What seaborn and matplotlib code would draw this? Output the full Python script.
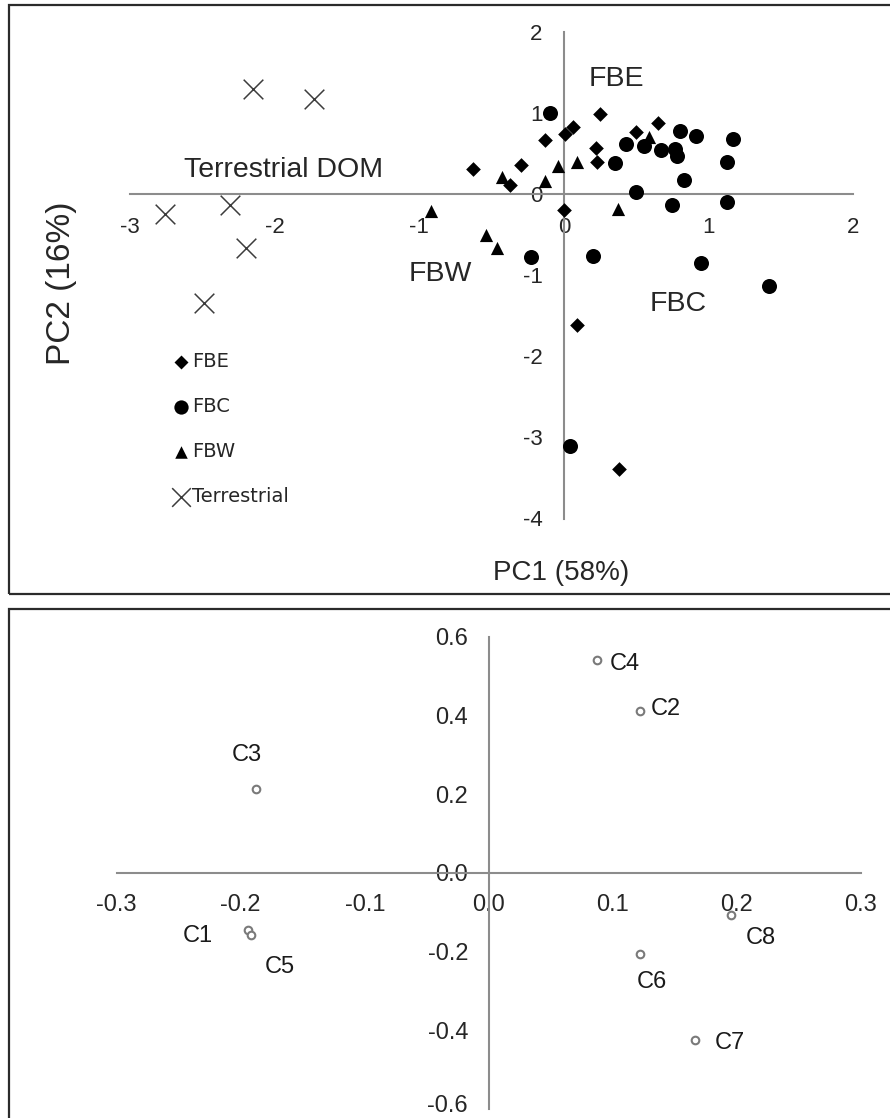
import matplotlib
matplotlib.use("Agg")
import pandas as pd
import matplotlib.pyplot as plt
from matplotlib.patches import Rectangle
from matplotlib.transforms import ScaledTranslation
import seaborn as sns

# PCA scores
fbe_pc1 = [-0.63, -0.37, -0.30, -0.13, 0.01, 0.06, 0.25, 0.22, 0.23, 0.50, 0.65, 0.00, 0.09, 0.38]
fbe_pc2 = [0.31, 0.11, 0.36, 0.66, 0.74, 0.83, 0.98, 0.57, 0.40, 0.76, 0.87, -0.20, -1.62, -3.39]

fbc_pc1 = [-0.10, 0.35, 0.43, 0.55, 0.67, 0.80, 0.77, 0.78, 0.91, 1.17, 1.13, 0.83, 0.50, 0.75,
           1.13, -0.23, 0.20, 0.95, 1.42, 0.04]
fbc_pc2 = [1.00, 0.38, 0.61, 0.59, 0.54, 0.77, 0.55, 0.47, 0.71, 0.68, 0.40, 0.17, 0.03, -0.14,
           -0.10, -0.78, -0.76, -0.85, -1.13, -3.11]

fbw_pc1 = [-0.92, -0.54, -0.46, -0.43, -0.13, -0.04, 0.09, 0.59, 0.37]
fbw_pc2 = [-0.21, -0.51, -0.66, 0.21, 0.16, 0.35, 0.39, 0.70, -0.18]

terr_pc1 = [-2.15, -1.73, -2.76, -2.31, -2.20, -2.49]
terr_pc2 = [1.29, 1.17, -0.25, -0.14, -0.66, -1.35]

# loadings (bottom panel)
comp_labels = ["C1", "C2", "C3", "C4", "C5", "C6", "C7", "C8"]
comp_pc1 = [-0.194, 0.122, -0.188, 0.0875, -0.192, 0.122, 0.166, 0.195]
comp_pc2 = [-0.145, 0.41, 0.212, 0.542, -0.158, -0.206, -0.425, -0.107]

top_xticks = [-3, -2, -1, 0, 1, 2]
top_yticks = [-4, -3, -2, -1, 0, 1, 2]
bot_xticks = [-0.3, -0.2, -0.1, 0.0, 0.1, 0.2, 0.3]
bot_yticks = [-0.6, -0.4, -0.2, 0.0, 0.2, 0.4, 0.6]

sns.set_style("white")
plt.rcParams["font.family"] = ["Liberation Sans", "DejaVu Sans"]
plt.rcParams["axes.unicode_minus"] = False

W, H = 890, 1118
fig = plt.figure(figsize=(W / 100, H / 100), dpi=100)

# panel frames (cut off on the right, like the original)
fig.add_artist(Rectangle((9 / W, 1 - 594 / H), 1.0, 589 / H, transform=fig.transFigure,
                         fill=False, ec="#2b2b2b", lw=1.6))
fig.add_artist(Rectangle((9 / W, -0.05), 1.0, 1 - 609 / H + 0.05, transform=fig.transFigure,
                         fill=False, ec="#2b2b2b", lw=1.6))

ax1 = fig.add_axes([130 / W, 1 - 518.5 / H, 723.3 / W, 486.8 / H])
ax2 = fig.add_axes([116.7 / W, 1 - 1109 / H, 744.3 / W, 472.3 / H])

axis_grey = "#8c8c8c"
for ax in (ax1, ax2):
    ax.set_facecolor("none")
    ax.spines["left"].set_position(("data", 0))
    ax.spines["bottom"].set_position(("data", 0))
    ax.spines["top"].set_visible(False)
    ax.spines["right"].set_visible(False)
    for s in ("left", "bottom"):
        ax.spines[s].set_color(axis_grey)
        ax.spines[s].set_linewidth(1.5)
    ax.tick_params(direction="out", color=axis_grey, width=1.5, length=4.5)

# --- top panel: scores ---
groups = [
    ("FBE", fbe_pc1, fbe_pc2, "D", 56, "black"),
    ("FBC", fbc_pc1, fbc_pc2, "o", 117, "black"),
    ("FBW", fbw_pc1, fbw_pc2, "^", 90, "black"),
    ("Terrestrial", terr_pc1, terr_pc2, "x", 200, "#3c3c3c"),
]
for name, xs, ys, mk, size, col in groups:
    df = pd.DataFrame({"PC1": xs, "PC2": ys})
    if mk == "x":
        sns.scatterplot(data=df, x="PC1", y="PC2", ax=ax1, marker=mk, s=size, color=col,
                        linewidth=1.1, label=name, clip_on=False, zorder=3)
    else:
        sns.scatterplot(data=df, x="PC1", y="PC2", ax=ax1, marker=mk, s=size, color=col,
                        edgecolor=col, linewidth=0, label=name, clip_on=False, zorder=3)

ax1.set_xlim(-3, 2)
ax1.set_ylim(-4, 2)
ax1.set_xticks(top_xticks)
ax1.set_yticks(top_yticks)
ax1.set_xticklabels([str(t) for t in top_xticks], fontsize=16)
ax1.set_yticklabels([str(t) for t in top_yticks], fontsize=16)
ax1.tick_params(axis="x", pad=12)
ax1.tick_params(axis="y", pad=11)
ax1.set_xlabel("")
ax1.set_ylabel("")

ax1.text(-1.94, 0.29, "Terrestrial DOM", fontsize=20.5, ha="center", va="center")
ax1.text(0.365, 1.42, "FBE", fontsize=20.5, ha="center", va="center")
ax1.text(-0.857, -0.99, "FBW", fontsize=20.5, ha="center", va="center")
ax1.text(0.79, -1.36, "FBC", fontsize=20.5, ha="center", va="center")

ax1.legend(loc="upper left", bbox_to_anchor=(163 / W, 1 - 342 / H), bbox_transform=fig.transFigure,
           frameon=False, borderpad=0, handlelength=0.8, handletextpad=0.2, labelspacing=1.35,
           markerscale=0.95, prop={"family": "DejaVu Sans", "size": 14})

fig.text(561 / W, 1 - 573 / H, "PC1 (58%)", fontsize=20, ha="center", va="center")
fig.text(62 / W, 1 - 283 / H, "PC2 (16%)", fontsize=24, ha="center", va="center", rotation=90)

# --- bottom panel: loadings ---
dfc = pd.DataFrame({"label": comp_labels, "PC1": comp_pc1, "PC2": comp_pc2})
sns.scatterplot(data=dfc, x="PC1", y="PC2", ax=ax2, marker="o", s=30, facecolor="white",
                edgecolor="#7a7a7a", linewidth=1.5, zorder=3, clip_on=False)

# label offsets in pixels (x right, y up)
label_offsets = {"C1": (-50, -6), "C2": (26, 2), "C3": (-9, 34), "C4": (27, -4),
                 "C5": (29, -32), "C6": (12, -28), "C7": (35, -3), "C8": (30, -23)}
for lbl, x, y in zip(dfc["label"], dfc["PC1"], dfc["PC2"]):
    ax2.annotate(lbl, (x, y), xytext=label_offsets[lbl], textcoords="offset pixels",
                 ha="center", va="center", fontsize=17, color="#1a1a1a")

ax2.set_xlim(-0.3, 0.3)
ax2.set_ylim(-0.6, 0.6)
ax2.set_xticks(bot_xticks)
ax2.set_yticks(bot_yticks)
ax2.set_xticklabels([f"{t:.1f}" for t in bot_xticks], fontsize=17)
ax2.set_yticklabels([f"{t:.1f}" for t in bot_yticks], fontsize=17)
ax2.tick_params(axis="x", pad=9, length=6)
ax2.tick_params(axis="y", pad=10, length=5)
ax2.set_xlabel("")
ax2.set_ylabel("")

# keep the lowest y label inside the canvas
low_lbl = ax2.get_yticklabels()[0]
low_lbl.set_transform(low_lbl.get_transform() + ScaledTranslation(0, 4 / 72, fig.dpi_scale_trans))

fig.savefig("out.png", dpi=100)
